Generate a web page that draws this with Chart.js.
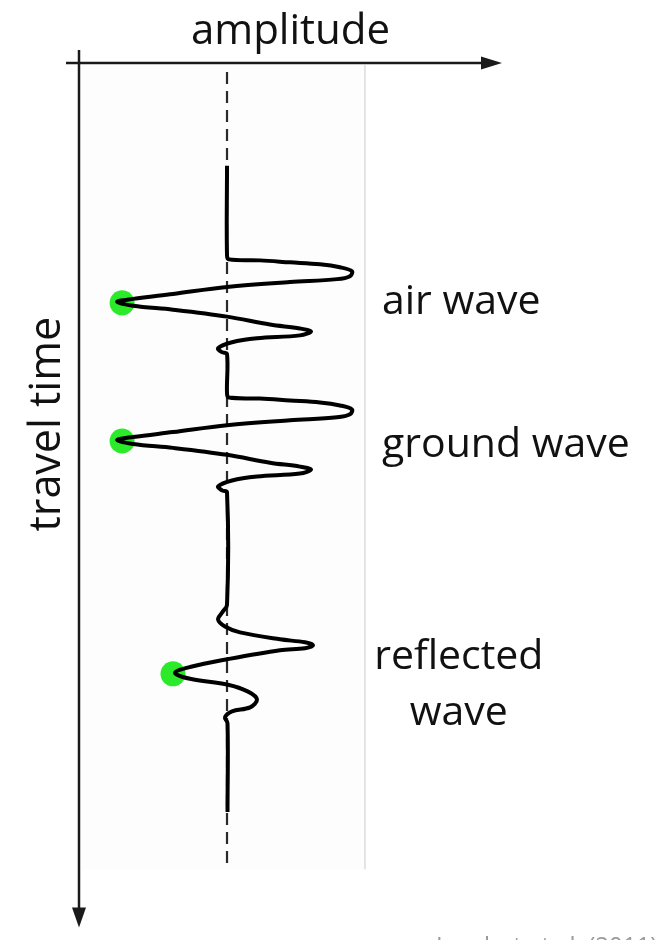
<!DOCTYPE html>
<html>
<head>
<meta charset="utf-8">
<script src="https://cdn.jsdelivr.net/npm/chart.js@4/dist/chart.umd.min.js"></script>
<style>
  html, body { margin: 0; padding: 0; background: #ffffff; }
  #wrap { width: 656px; height: 940px; position: relative; }
</style>
</head>
<body>
<div id="wrap"><canvas id="c"></canvas></div>
<script>
// ---- data (amplitude: arbitrary units, 0 = rest line; time: arbitrary units from top) ----
const traceAmplitude = [
  0, 0, 0.016, 0.262, 0.5, 0.738, 0.897, 0.992, 0.976, 0.873, 0.5, 0, -0.429, -0.746, -0.873, -0.746, -0.429, 0, 0.341, 0.579, 0.667, 0.579, 0.238, 0.04, -0.071, -0.04, 0,
  0, 0.016, 0.262, 0.5, 0.738, 0.897, 0.992, 0.976, 0.873, 0.5, 0, -0.429, -0.746, -0.873, -0.746, -0.429, 0, 0.341, 0.579, 0.667, 0.579, 0.238, 0.04, -0.071, -0.04, 0,
  0, -0.04, -0.071, -0.016, 0.103, 0.421, 0.619, 0.683, 0.619, 0.421, 0.008, -0.294, -0.413, -0.294, 0.008, 0.167, 0.238, 0.183, 0.04, -0.016, 0.004, 0.004
];
const traceTime = [
  10.4, 19.5, 19.9, 20.0, 20.2, 20.4, 20.7, 21.1, 21.6, 21.9, 22.2, 22.7, 23.4, 23.9, 24.2, 24.6, 25.0, 25.7, 26.5, 26.9, 27.2, 27.6, 27.9, 28.3, 28.9, 29.3, 29.5,
  33.5, 33.9, 34.0, 34.2, 34.4, 34.7, 35.1, 35.6, 35.9, 36.2, 36.7, 37.4, 37.9, 38.2, 38.6, 39.0, 39.7, 40.5, 40.9, 41.2, 41.6, 41.9, 42.3, 42.9, 43.3, 43.5,
  54.9, 55.7, 56.4, 57.1, 57.7, 58.4, 58.7, 59.0, 59.3, 59.5, 60.4, 61.2, 61.8, 62.4, 63.0, 63.7, 64.5, 65.3, 65.7, 66.3, 66.9, 75.9
];
// picked arrivals (green dots)
const pickAmplitude = [-0.833, -0.833, -0.429];
const pickTime = [24.3, 38.3, 61.9];
// wave labels
const waveLabels = [["air wave"], ["ground wave"], ["reflected", "wave"]];
const waveLabelTime = [25.4, 39.9, 61.4];
// axis titles and reference
const xTitle = "amplitude";
const yTitle = "travel time";
const sourceNote = "Lambot et al. (2011)";
// reference lines
const zeroLineAmp = 0;
const maxLineAmp = 1.095;
const refLineTimeRange = [0.9, 81.7];

const tracePts = traceAmplitude.map((a, i) => ({ x: a, y: traceTime[i] }));
const pickPts = pickAmplitude.map((a, i) => ({ x: a, y: pickTime[i] }));

const FONT = '"Open Sans", "Noto Sans", sans-serif';

const decor = {
  id: 'decor',
  beforeDatasetsDraw(chart) {
    const { ctx, chartArea: ca, scales: { x, y } } = chart;
    ctx.save();
    // faint panel
    ctx.fillStyle = '#fdfdfd';
    const px1 = x.getPixelForValue(maxLineAmp);
    ctx.fillRect(ca.left + 3, y.getPixelForValue(0.2), px1 - ca.left - 3, y.getPixelForValue(refLineTimeRange[1]) - y.getPixelForValue(0.2));
    // light grey reference line
    ctx.strokeStyle = '#dcdcdc';
    ctx.lineWidth = 1.5;
    ctx.beginPath();
    ctx.moveTo(px1, y.getPixelForValue(0.2));
    ctx.lineTo(px1, y.getPixelForValue(refLineTimeRange[1]));
    ctx.stroke();
    // dashed zero line
    const px0 = x.getPixelForValue(zeroLineAmp);
    ctx.strokeStyle = '#2a2a2a';
    ctx.lineWidth = 2.2;
    ctx.setLineDash([12, 7]);
    ctx.beginPath();
    ctx.moveTo(px0, y.getPixelForValue(refLineTimeRange[0]));
    ctx.lineTo(px0, y.getPixelForValue(refLineTimeRange[1]));
    ctx.stroke();
    ctx.setLineDash([]);
    ctx.restore();
  },
  afterDatasetsDraw(chart) {
    const { ctx, chartArea: ca, scales: { x, y } } = chart;
    ctx.save();
    // axes arrows
    ctx.strokeStyle = '#1a1a1a';
    ctx.fillStyle = '#1a1a1a';
    ctx.lineWidth = 2.5;
    ctx.beginPath();
    ctx.moveTo(ca.left - 13, ca.top);
    ctx.lineTo(ca.right - 16, ca.top);
    ctx.stroke();
    ctx.beginPath();
    ctx.moveTo(ca.right, ca.top);
    ctx.lineTo(ca.right - 21, ca.top - 6.5);
    ctx.lineTo(ca.right - 21, ca.top + 6.5);
    ctx.closePath();
    ctx.fill();
    ctx.beginPath();
    ctx.moveTo(ca.left, ca.top - 13);
    ctx.lineTo(ca.left, ca.bottom - 16);
    ctx.stroke();
    ctx.beginPath();
    ctx.moveTo(ca.left, ca.bottom);
    ctx.lineTo(ca.left - 7, ca.bottom - 20);
    ctx.lineTo(ca.left + 7, ca.bottom - 20);
    ctx.closePath();
    ctx.fill();
    // axis titles
    ctx.fillStyle = '#111';
    ctx.font = '42px ' + FONT;
    ctx.textAlign = 'center';
    ctx.textBaseline = 'alphabetic';
    ctx.fillText(xTitle, (ca.left + ca.right) / 2, ca.top - 19);
    ctx.save();
    ctx.translate(ca.left - 19, y.getPixelForValue(36.6));
    ctx.rotate(-Math.PI / 2);
    ctx.font = '43px ' + FONT;
    ctx.fillText(yTitle, 0, 0);
    ctx.restore();
    // wave labels
    ctx.font = '41px ' + FONT;
    waveLabels.forEach((lines, i) => {
      const by = y.getPixelForValue(waveLabelTime[i]);
      if (lines.length === 1) {
        ctx.textAlign = 'left';
        ctx.fillText(lines[0], x.getPixelForValue(1.23), by);
      } else {
        ctx.textAlign = 'center';
        const cx = x.getPixelForValue(1.84);
        lines.forEach((ln, j) => ctx.fillText(ln, cx, by + j * 56));
      }
    });
    // source note (cut off at bottom)
    ctx.fillStyle = '#9a9a9a';
    ctx.font = '24px ' + FONT;
    ctx.textAlign = 'left';
    ctx.fillText(sourceNote, 436, chart.height + 14);
    ctx.restore();
  }
};

new Chart(document.getElementById('c'), {
  type: 'scatter',
  data: {
    datasets: [
      {
        data: tracePts,
        showLine: true,
        borderColor: '#000',
        borderWidth: 4,
        pointRadius: 0,
        tension: 0.35,
        order: 1
      },
      {
        data: pickPts,
        showLine: false,
        pointRadius: 12.5,
        pointBackgroundColor: '#2aea2a',
        pointBorderWidth: 0,
        order: 2
      }
    ]
  },
  options: {
    responsive: true,
    maintainAspectRatio: false,
    animation: false,
    layout: { padding: { left: 79, top: 63, right: 154, bottom: 1 } },
    plugins: { legend: { display: false }, tooltip: { enabled: false } },
    scales: {
      x: { type: 'linear', min: -1.175, max: 2.183, display: false },
      y: { type: 'linear', min: 0, max: 87.6, reverse: true, display: false }
    }
  },
  plugins: [decor]
});
</script>
</body>
</html>
